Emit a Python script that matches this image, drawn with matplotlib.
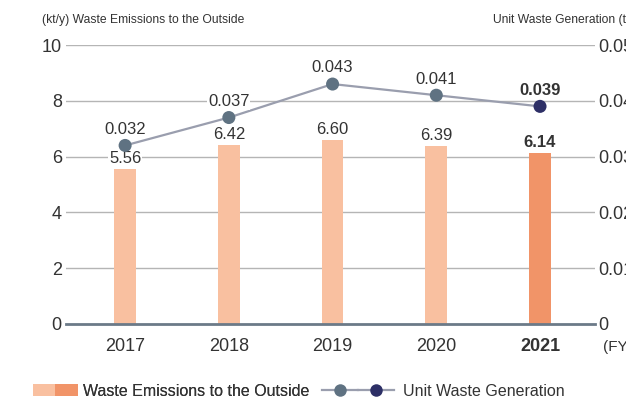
import matplotlib
matplotlib.use("Agg")
import matplotlib.pyplot as plt
from matplotlib.patches import Patch
from matplotlib.lines import Line2D
from matplotlib.legend_handler import HandlerTuple

plt.rcParams['font.family'] = ['Liberation Sans', 'DejaVu Sans']

years = ['2017', '2018', '2019', '2020', '2021']
emissions = [5.56, 6.42, 6.60, 6.39, 6.14]
unit_gen = [0.032, 0.037, 0.043, 0.041, 0.039]
left_ticks = [0, 2, 4, 6, 8, 10]
right_ticks = [0, 0.01, 0.02, 0.03, 0.04, 0.05]
right_ticklabels = ['0', '0.01', '0.02', '0.03', '0.04', '0.05']

bar_light = '#f9c0a0'
bar_dark = '#f19468'
mk_light = '#5f7282'
mk_dark = '#2d2f66'
line_col = '#9a9eae'
text_col = '#333333'

fig = plt.figure(figsize=(6.26, 4.03), dpi=100)
ax = fig.add_axes([66/626, 1-324/403, (595-66)/626, (324-45)/403])
ax2 = ax.twinx()

x = list(range(len(years)))
colors = [bar_light]*4 + [bar_dark]
ax.bar(x, emissions, width=0.21, color=colors, zorder=2)
ax.set_xlim(-0.57, 4.53)
ax.set_ylim(0, 10)
ax.set_yticks(left_ticks)
ax.set_yticklabels([str(t) for t in left_ticks], fontsize=13, color=text_col)
ax.tick_params(axis='y', length=0, pad=3)
ax.set_xticks(x)
ax.set_xticklabels(years, fontsize=13, color=text_col)
for lab in ax.get_xticklabels():
    if lab.get_text() == '2021':
        lab.set_fontweight('bold')
ax.tick_params(axis='x', length=0, pad=10)
for t in left_ticks[1:]:
    ax.axhline(t, color='#b5b5b5', lw=1.0, zorder=0)
for s in ['top', 'right', 'left']:
    ax.spines[s].set_visible(False)
ax.spines['bottom'].set_color('#6b7a88')
ax.spines['bottom'].set_linewidth(2)
ax.spines['bottom'].set_zorder(3)

for i, v in enumerate(emissions):
    ax.text(i, v + 0.1, f'{v:.2f}', ha='center', va='bottom', fontsize=12,
            color=text_col, fontweight='bold' if i == 4 else 'normal',
            bbox=dict(facecolor='white', edgecolor='none', pad=0.5), zorder=4)

ax2.set_ylim(0, 0.05)
ax2.set_yticks(right_ticks)
ax2.set_yticklabels(right_ticklabels, fontsize=13, color=text_col)
ax2.tick_params(axis='y', length=0, pad=2)
for s in ['top', 'right', 'left', 'bottom']:
    ax2.spines[s].set_visible(False)
ax2.plot(x, unit_gen, color=line_col, lw=1.6, zorder=3)
mcols = [mk_light]*4 + [mk_dark]
ax2.scatter(x, unit_gen, s=88, c=mcols, zorder=4, edgecolors='none')
for i, v in enumerate(unit_gen):
    ax2.text(i, v + 0.00155, f'{v:.3f}', ha='center', va='bottom', fontsize=12,
             color=text_col, fontweight='bold' if i == 4 else 'normal',
             bbox=dict(facecolor='white', edgecolor='none', pad=0.5), zorder=5)

fig.text(42/626, 1-20/403, '(kt/y) Waste Emissions to the Outside', fontsize=8.7,
         color=text_col, va='center', ha='left')
fig.text(493/626, 1-20/403, 'Unit Waste Generation (t/t)', fontsize=8.7,
         color=text_col, va='center', ha='left')
fig.text(603/626, 1-347/403, '(FY)', fontsize=11,
         color=text_col, va='center', ha='left')

h_bar = (Patch(facecolor=bar_light, edgecolor='none'), Patch(facecolor=bar_dark, edgecolor='none'))
h_line = (Line2D([], [], color=line_col, lw=1.6, marker='o', markersize=9,
                 markerfacecolor=mk_light, markeredgecolor='none'),
          Line2D([], [], color=line_col, lw=1.6, marker='o', markersize=9,
                 markerfacecolor=mk_dark, markeredgecolor='none'))
fs = 11.5
leg1 = fig.legend([h_bar], ['Waste Emissions to the Outside'],
                  handler_map={tuple: HandlerTuple(ndivide=None, pad=0)},
                  loc='center left', bbox_to_anchor=(33/626, 1-391/403),
                  frameon=False, handlelength=2.8, handleheight=0.85,
                  handletextpad=0.35, borderpad=0, borderaxespad=0,
                  prop={'size': fs})
leg2 = fig.legend([h_line], ['Unit Waste Generation'],
                  handler_map={tuple: HandlerTuple(ndivide=None, pad=0)},
                  loc='center left', bbox_to_anchor=(322/626, 1-391/403),
                  frameon=False, handlelength=4.5, handletextpad=0.6,
                  borderpad=0, borderaxespad=0, prop={'size': fs})
for leg in (leg1, leg2):
    for t in leg.get_texts():
        t.set_color(text_col)
fig.add_artist(leg1)

fig.savefig('out.png', dpi=100)
